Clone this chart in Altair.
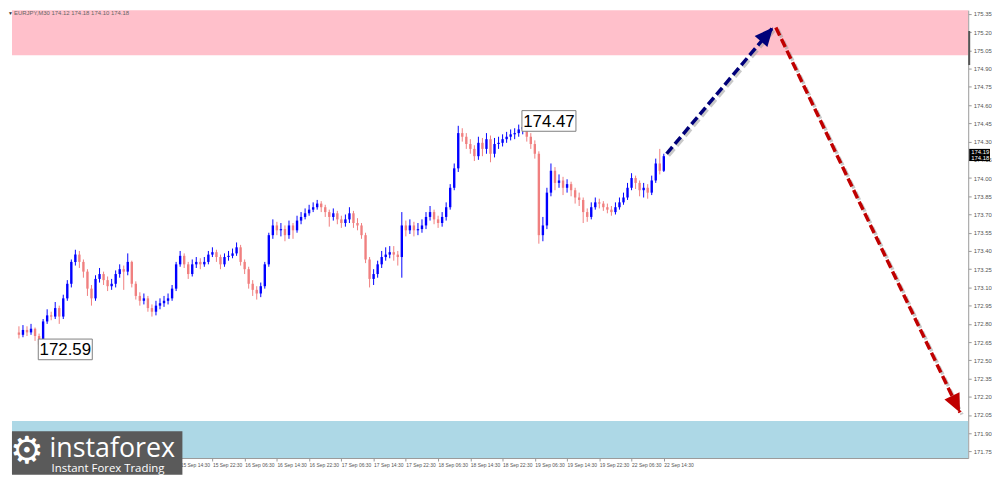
import json
import math
import altair as alt
import pandas as pd

# ---------------- data (EURJPY, bars) ----------------
opens = [
    172.73, 172.71, 172.75, 172.73, 172.76, 172.70, 172.63, 172.82, 172.87, 172.86,
    172.93, 172.86, 173.01, 173.13, 173.31, 173.37, 173.31, 173.23, 173.09, 173.01,
    173.17, 173.21, 173.16, 173.11, 173.13, 173.21, 173.25, 173.23, 173.31, 173.13,
    173.03, 172.99, 173.01, 172.93, 172.90, 172.95, 172.97, 172.99, 173.01, 173.09,
    173.29, 173.36, 173.29, 173.21, 173.29, 173.31, 173.29, 173.31, 173.37, 173.39,
    173.35, 173.29, 173.35, 173.36, 173.38, 173.43, 173.31, 173.25, 173.13, 173.08,
    173.05, 173.11, 173.29, 173.53, 173.61, 173.57, 173.58, 173.53, 173.61, 173.57,
    173.65, 173.68, 173.71, 173.74, 173.76, 173.79, 173.76, 173.72, 173.68, 173.71,
    173.66, 173.63, 173.66, 173.71, 173.63, 173.61, 173.53, 173.33, 173.17, 173.21,
    173.29, 173.35, 173.37, 173.39, 173.37, 173.35, 173.61, 173.57, 173.61, 173.57,
    173.58, 173.61, 173.68, 173.72, 173.66, 173.63, 173.68, 173.76, 173.92, 174.08,
    174.37, 174.34, 174.28, 174.24, 174.18, 174.29, 174.24, 174.32, 174.20, 174.28,
    174.29, 174.32, 174.34, 174.36, 174.37, 174.40, 174.42, 174.34, 174.28, 174.20,
    173.53, 173.61, 173.88, 174.06, 173.96, 173.98, 173.92, 173.95, 173.90, 173.84,
    173.82, 173.72, 173.68, 173.76, 173.80, 173.79, 173.76, 173.74, 173.72, 173.76,
    173.80, 173.84, 173.92, 174.00, 173.96, 173.90, 173.92, 173.88, 173.98, 174.12,
    174.06,
]
closes = [
    172.71, 172.75, 172.73, 172.76, 172.70, 172.63, 172.82, 172.87, 172.86, 172.93,
    172.86, 173.01, 173.13, 173.31, 173.37, 173.31, 173.23, 173.09, 173.01, 173.17,
    173.21, 173.16, 173.11, 173.13, 173.21, 173.25, 173.23, 173.31, 173.13, 173.03,
    172.99, 173.01, 172.93, 172.90, 172.95, 172.97, 172.99, 173.01, 173.09, 173.29,
    173.36, 173.29, 173.21, 173.29, 173.31, 173.29, 173.31, 173.37, 173.39, 173.35,
    173.29, 173.35, 173.36, 173.38, 173.43, 173.31, 173.25, 173.13, 173.08, 173.05,
    173.11, 173.29, 173.53, 173.61, 173.57, 173.58, 173.53, 173.61, 173.57, 173.65,
    173.68, 173.71, 173.74, 173.76, 173.79, 173.76, 173.72, 173.68, 173.71, 173.66,
    173.63, 173.66, 173.71, 173.63, 173.61, 173.53, 173.33, 173.17, 173.21, 173.29,
    173.35, 173.37, 173.39, 173.37, 173.35, 173.61, 173.57, 173.61, 173.57, 173.58,
    173.61, 173.68, 173.72, 173.66, 173.63, 173.68, 173.76, 173.92, 174.08, 174.37,
    174.34, 174.28, 174.24, 174.18, 174.29, 174.24, 174.32, 174.20, 174.28, 174.29,
    174.32, 174.34, 174.36, 174.37, 174.40, 174.42, 174.34, 174.28, 174.20, 173.53,
    173.61, 173.88, 174.06, 173.96, 173.98, 173.92, 173.95, 173.90, 173.84, 173.82,
    173.72, 173.68, 173.76, 173.80, 173.79, 173.76, 173.74, 173.72, 173.76, 173.80,
    173.84, 173.92, 174.00, 173.96, 173.90, 173.92, 173.88, 173.98, 174.12, 174.06,
    174.18,
]
highs = [
    172.78, 172.79, 172.78, 172.80, 172.77, 172.72, 172.84, 172.92, 172.90, 172.98,
    172.95, 173.04, 173.16, 173.33, 173.41, 173.40, 173.33, 173.25, 173.12, 173.20,
    173.26, 173.23, 173.19, 173.17, 173.24, 173.29, 173.28, 173.38, 173.32, 173.15,
    173.06, 173.05, 173.03, 172.96, 172.99, 173.01, 173.03, 173.05, 173.12, 173.31,
    173.40, 173.38, 173.31, 173.33, 173.35, 173.34, 173.35, 173.40, 173.43, 173.41,
    173.37, 173.38, 173.40, 173.42, 173.47, 173.45, 173.33, 173.27, 173.16, 173.11,
    173.14, 173.31, 173.55, 173.66, 173.64, 173.63, 173.61, 173.65, 173.63, 173.69,
    173.72, 173.75, 173.78, 173.80, 173.82, 173.81, 173.78, 173.74, 173.75, 173.73,
    173.69, 173.70, 173.76, 173.73, 173.67, 173.63, 173.55, 173.35, 173.25, 173.32,
    173.40, 173.43, 173.44, 173.44, 173.40, 173.72, 173.65, 173.66, 173.64, 173.63,
    173.66, 173.72, 173.77, 173.74, 173.69, 173.72, 173.80, 173.95, 174.12, 174.43,
    174.41, 174.37, 174.32, 174.27, 174.34, 174.33, 174.37, 174.35, 174.33, 174.34,
    174.36, 174.38, 174.40, 174.41, 174.44, 174.47, 174.44, 174.37, 174.31, 174.22,
    173.68, 173.92, 174.12, 174.09, 174.03, 174.01, 173.99, 173.97, 173.92, 173.88,
    173.84, 173.75, 173.80, 173.84, 173.83, 173.81, 173.79, 173.77, 173.80, 173.84,
    173.88, 173.96, 174.04, 174.02, 173.98, 173.96, 173.95, 174.02, 174.16, 174.24,
    174.20,
]
lows = [
    172.68, 172.69, 172.70, 172.71, 172.66, 172.59, 172.61, 172.80, 172.83, 172.84,
    172.80, 172.84, 172.99, 173.10, 173.28, 173.26, 173.18, 173.03, 172.95, 172.99,
    173.14, 173.12, 173.07, 173.08, 173.10, 173.18, 173.08, 173.20, 173.10, 173.00,
    172.95, 172.96, 172.90, 172.86, 172.87, 172.92, 172.94, 172.96, 172.99, 173.07,
    173.27, 173.26, 173.17, 173.19, 173.26, 173.25, 173.27, 173.29, 173.35, 173.31,
    173.25, 173.27, 173.32, 173.34, 173.36, 173.28, 173.21, 173.09, 173.03, 173.00,
    173.02, 173.09, 173.27, 173.50, 173.53, 173.52, 173.48, 173.50, 173.50, 173.55,
    173.62, 173.66, 173.69, 173.72, 173.74, 173.72, 173.68, 173.60, 173.65, 173.62,
    173.59, 173.60, 173.63, 173.59, 173.57, 173.50, 173.30, 173.10, 173.12, 173.18,
    173.26, 173.32, 173.34, 173.32, 173.28, 173.18, 173.52, 173.54, 173.52, 173.53,
    173.55, 173.58, 173.65, 173.62, 173.59, 173.60, 173.65, 173.74, 173.90, 174.05,
    174.30, 174.24, 174.20, 174.14, 174.15, 174.18, 174.20, 174.13, 174.17, 174.24,
    174.26, 174.29, 174.31, 174.32, 174.34, 174.36, 174.30, 174.24, 174.16, 173.46,
    173.48, 173.58, 173.85, 173.90, 173.92, 173.86, 173.88, 173.85, 173.79, 173.77,
    173.63, 173.64, 173.66, 173.74, 173.75, 173.73, 173.71, 173.69, 173.70, 173.74,
    173.78, 173.82, 173.90, 173.91, 173.85, 173.84, 173.83, 173.86, 173.96, 174.03,
    174.05,
]
n = min(len(opens), len(closes), len(highs), len(lows))
bar_k = list(range(n))

label_k = [0, 8, 16, 24, 32, 40, 48, 56, 64, 72, 80, 88, 96, 104, 112, 120,
           128, 136, 144, 152, 160]
time_labels = [
    "11 Sep 22:30", "12 Sep 06:30", "12 Sep 14:30", "12 Sep 22:30",
    "15 Sep 06:30", "15 Sep 14:30", "15 Sep 22:30", "16 Sep 06:30",
    "16 Sep 14:30", "16 Sep 22:30", "17 Sep 06:30", "17 Sep 14:30",
    "17 Sep 22:30", "18 Sep 06:30", "18 Sep 14:30", "18 Sep 22:30",
    "19 Sep 06:30", "19 Sep 14:30", "19 Sep 22:30", "22 Sep 06:30",
    "22 Sep 14:30",
]
price_ticks = [171.75, 171.90, 172.05, 172.20, 172.35, 172.50, 172.65, 172.80,
               172.95, 173.10, 173.25, 173.40, 173.55, 173.70, 173.85, 174.00,
               174.15, 174.30, 174.45, 174.60, 174.75, 174.90, 175.05, 175.20,
               175.35]

ann_k = [125, 5]
ann_price = [174.47, 172.59]
ann_text = ["174.47", "172.59"]

up_k = [160.7, 187.1]
up_p = [174.20, 175.24]
down_k = [187.8, 233.5]
down_p = [175.24, 172.07]

zone_lo = [175.01, 171.50]
zone_hi = [175.60, 172.00]

header = "EURJPY,M30  174.12 174.18 174.10 174.18"
bid_labels = ["174.19", "174.18"]
bid_prices = [174.215, 174.165]

# ---------------- layout / style ----------------
W, H = 965, 452
X_DOM = [-0.5, 234.3]
Y_DOM = [171.696, 175.382]
BULL = "#0000ff"
BEAR = "#f08080"
BLUE_ARROW = "#00007a"
RED_ARROW = "#c00000"

xs = alt.Scale(domain=X_DOM, nice=False, zero=False)
ys = alt.Scale(domain=Y_DOM, nice=False, zero=False)

label_expr = "{}[indexof({}, datum.value)]".format(json.dumps(time_labels), json.dumps(label_k))
x_axis = alt.Axis(values=label_k, labelExpr=label_expr, title=None, grid=False,
                  labelFontSize=5, labelFont="Liberation Sans", labelColor="#555",
                  labelAlign="left", labelPadding=2, tickSize=3, tickColor="#999",
                  domainColor="#999", labelOverlap=False, labelFlush=False, labelBound=False)
y_axis = alt.Axis(orient="right", values=price_ticks, format=".2f", title=None, grid=False,
                  labelFontSize=6, labelFont="Liberation Sans", labelColor="#555",
                  labelPadding=2, tickSize=3, tickColor="#999", domainColor="#999",
                  labelOverlap=False, labelFlush=False, labelBound=False)


def X(field):
    return alt.X(field, scale=xs, axis=x_axis)


def Y(field):
    return alt.Y(field, scale=ys, axis=y_axis)


candles = pd.DataFrame({"k": bar_k, "open": opens[:n], "close": closes[:n],
                        "high": highs[:n], "low": lows[:n]})
col = alt.condition("datum.close >= datum.open", alt.value(BULL), alt.value(BEAR))

wicks = alt.Chart(candles).mark_rule(strokeWidth=1).encode(
    x=X("k:Q"), y=Y("low:Q"), y2="high:Q", color=col)

zones = alt.Chart(pd.DataFrame({"lo": zone_lo, "hi": zone_hi, "c": ["#ffc0cb", "#add8e6"]})).mark_rect(clip=True).encode(
    x=alt.value(0), x2=alt.value(W),
    y=Y("lo:Q"), y2="hi:Q",
    color=alt.Color("c:N", scale=None))

bodies = alt.Chart(candles).mark_bar(size=2.4).encode(
    x=X("k:Q"), y=Y("open:Q"), y2="close:Q", color=col)


def arrow(ks, ps, color):
    df = pd.DataFrame({"k": ks, "p": ps})
    shadow = alt.Chart(df).mark_line(strokeDash=[9, 4], strokeWidth=3.5, color="#9a9a9a",
                                     opacity=0.55, xOffset=2, yOffset=2).encode(
        x=X("k:Q"), y=Y("p:Q"))
    line = alt.Chart(df).mark_line(strokeDash=[9, 4], strokeWidth=3.5, color=color).encode(
        x=X("k:Q"), y=Y("p:Q"))
    dx = (ks[1] - ks[0]) * W / (X_DOM[1] - X_DOM[0])
    dy = (ps[1] - ps[0]) * H / (Y_DOM[1] - Y_DOM[0])
    ang = math.degrees(math.atan2(dx, dy)) % 360
    head = alt.Chart(pd.DataFrame({"k": [ks[1]], "p": [ps[1]], "a": [ang]})).mark_point(
        shape="M0,0L0.45,1L-0.45,1Z", filled=True, size=1400, opacity=1, color=color,
        strokeWidth=0).encode(
        x=X("k:Q"), y=Y("p:Q"), angle=alt.Angle("a:Q", scale=None))
    return [shadow, line, head]


ann = pd.DataFrame({"k": ann_k, "p": ann_price, "t": ann_text})
ann["x1"] = ann["k"] - 0.2
ann["x2"] = ann["k"] + 13.2
ann["xm"] = ann["k"] + 6.5
ann["y1"] = ann["p"] - 0.085
ann["y2"] = ann["p"] + 0.085
ann_box = alt.Chart(ann).mark_rect(fill="white", stroke="#808080", strokeWidth=1).encode(
    x=X("x1:Q"), x2="x2:Q", y=Y("y1:Q"), y2="y2:Q")
ann_txt = alt.Chart(ann).mark_text(font="Liberation Sans", fontSize=17, color="black",
                                   align="center", baseline="middle", dy=1).encode(
    x=X("xm:Q"), y=Y("p:Q"), text="t:N")

one = pd.DataFrame({"a": [0]})
logo_bg = alt.Chart(one).mark_rect(color="#5a5a5a").encode(
    x=alt.value(0), x2=alt.value(172), y=alt.value(425), y2=alt.value(469))
logo_gear = alt.Chart(one).mark_text(text="⚙", font="DejaVu Sans", fontSize=38, color="white",
                                     align="center", baseline="middle").encode(
    x=alt.value(15), y=alt.value(446))
logo_name = alt.Chart(one).mark_text(text="instaforex", font="Open Sans", fontSize=27,
                                     color="white", align="left", baseline="alphabetic").encode(
    x=alt.value(38), y=alt.value(451))
logo_tag = alt.Chart(one).mark_text(text="Instant Forex Trading", font="Open Sans", fontSize=11.5,
                                    color="white", align="left", baseline="alphabetic").encode(
    x=alt.value(40), y=alt.value(466))

hdr_tri = alt.Chart(one).mark_text(text="▼", fontSize=5, color="#333", align="left",
                                   baseline="middle").encode(x=alt.value(-4), y=alt.value(3))
hdr = alt.Chart(one).mark_text(text=header, font="Liberation Sans", fontSize=6, color="#666",
                               align="left", baseline="middle").encode(x=alt.value(2), y=alt.value(3))

marker = alt.Chart(pd.DataFrame({"lo": [174.93], "hi": [175.21]})).mark_rect(color="#555").encode(
    x=alt.value(W), x2=alt.value(W + 2), y=Y("lo:Q"), y2="hi:Q")
bid_df = pd.DataFrame({"p": bid_prices, "t": bid_labels})
bid_df["lo"] = bid_df["p"] - 0.025
bid_df["hi"] = bid_df["p"] + 0.025
bid_box = alt.Chart(bid_df).mark_rect(color="black").encode(
    x=alt.value(W + 1), x2=alt.value(W + 22), y=Y("lo:Q"), y2="hi:Q")
bid_txt = alt.Chart(bid_df).mark_text(font="Liberation Sans", fontSize=6, color="white",
                                      align="left", baseline="middle").encode(
    x=alt.value(W + 3), y=Y("p:Q"), text="t:N")

layers = [wicks, zones, bodies] + arrow(up_k, up_p, BLUE_ARROW) + arrow(down_k, down_p, RED_ARROW) + [
    ann_box, ann_txt, logo_bg, logo_gear, logo_name, logo_tag, hdr_tri, hdr, marker, bid_box, bid_txt]

chart = alt.layer(*layers).properties(
    width=W, height=H, background="white",
    padding={"left": 0, "top": 0, "right": 0, "bottom": 0},
).configure_view(stroke=None)

chart.save("out.html", embed_options={"renderer": "svg", "actions": False})
